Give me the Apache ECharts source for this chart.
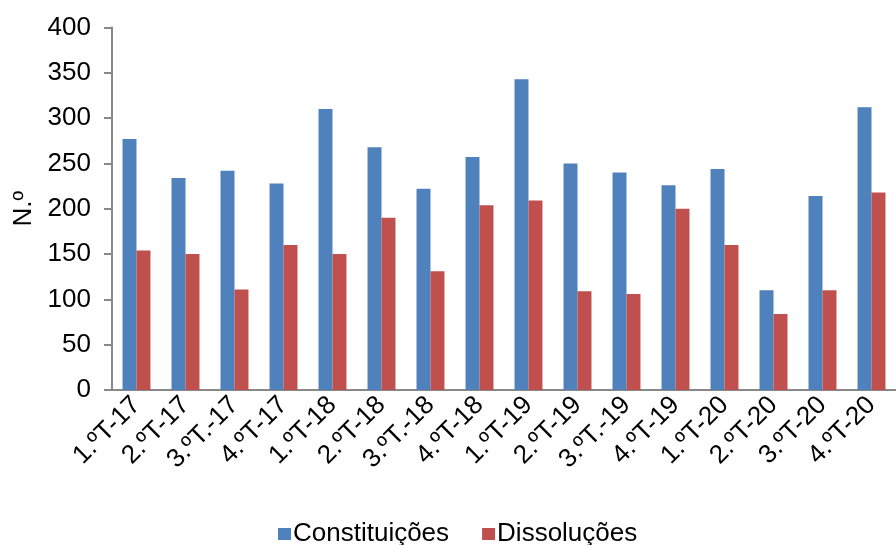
<!DOCTYPE html>
<html>
<head>
<meta charset="utf-8">
<script src="https://cdn.jsdelivr.net/npm/echarts@6/dist/echarts.min.js"></script>
<style>
html, body { margin: 0; padding: 0; background: #fff; }
#chart { width: 896px; height: 545px; }
</style>
</head>
<body>
<div id="chart"></div>
<script>
var categories = ['1.ºT-17', '2.ºT-17', '3.ºT.-17', '4.ºT-17', '1.ºT-18', '2.ºT-18', '3.ºT.-18', '4.ºT-18',
    '1.ºT-19', '2.ºT-19', '3.ºT.-19', '4.ºT-19', '1.ºT-20', '2.ºT-20', '3.ºT-20', '4.ºT-20'];
var constituicoes = [277, 234, 242, 228, 310, 268, 222, 257, 343, 250, 240, 226, 244, 110, 214, 312];
var dissolucoes = [154, 150, 111, 160, 150, 190, 131, 204, 209, 109, 106, 200, 160, 84, 110, 218];

var chart = echarts.init(document.getElementById('chart'));
var font = 'Liberation Sans';
var option = {
    animation: false,
    textStyle: { fontFamily: font },
    grid: {
        left: 112,
        top: 27.5,
        width: 791,
        bottom: 155
    },
    legend: {
        top: 516,
        left: 273,
        itemWidth: 13,
        itemHeight: 12,
        itemGap: 33,
        icon: 'rect',
        textStyle: { fontSize: 26, color: '#000', fontFamily: font, padding: [0, 0, 0, -3] }
    },
    xAxis: {
        type: 'category',
        data: categories,
        axisLine: { lineStyle: { color: '#888', width: 2 } },
        axisTick: { alignWithLabel: false, length: 8, lineStyle: { color: '#888', width: 2 } },
        axisLabel: { rotate: 45, fontSize: 26, color: '#000', margin: 11, interval: 0, fontFamily: font }
    },
    yAxis: {
        type: 'value',
        min: 0,
        max: 400,
        interval: 50,
        name: 'N.º',
        nameLocation: 'middle',
        nameGap: 74,
        nameRotate: 90,
        nameTextStyle: { fontSize: 26, color: '#000', fontFamily: font },
        splitLine: { show: false },
        axisLine: { show: true, lineStyle: { color: '#888', width: 2 } },
        axisTick: { show: true, length: 8, lineStyle: { color: '#888', width: 2 } },
        axisLabel: { fontSize: 26, color: '#000', margin: 21, fontFamily: font }
    },
    series: [
        {
            name: 'Constituições',
            type: 'bar',
            data: constituicoes,
            barGap: '0%',
            barCategoryGap: '43%',
            itemStyle: { color: '#4F81BD' }
        },
        {
            name: 'Dissoluções',
            type: 'bar',
            data: dissolucoes,
            itemStyle: { color: '#C0504D' }
        }
    ]
};
chart.setOption(option);
</script>
</body>
</html>
